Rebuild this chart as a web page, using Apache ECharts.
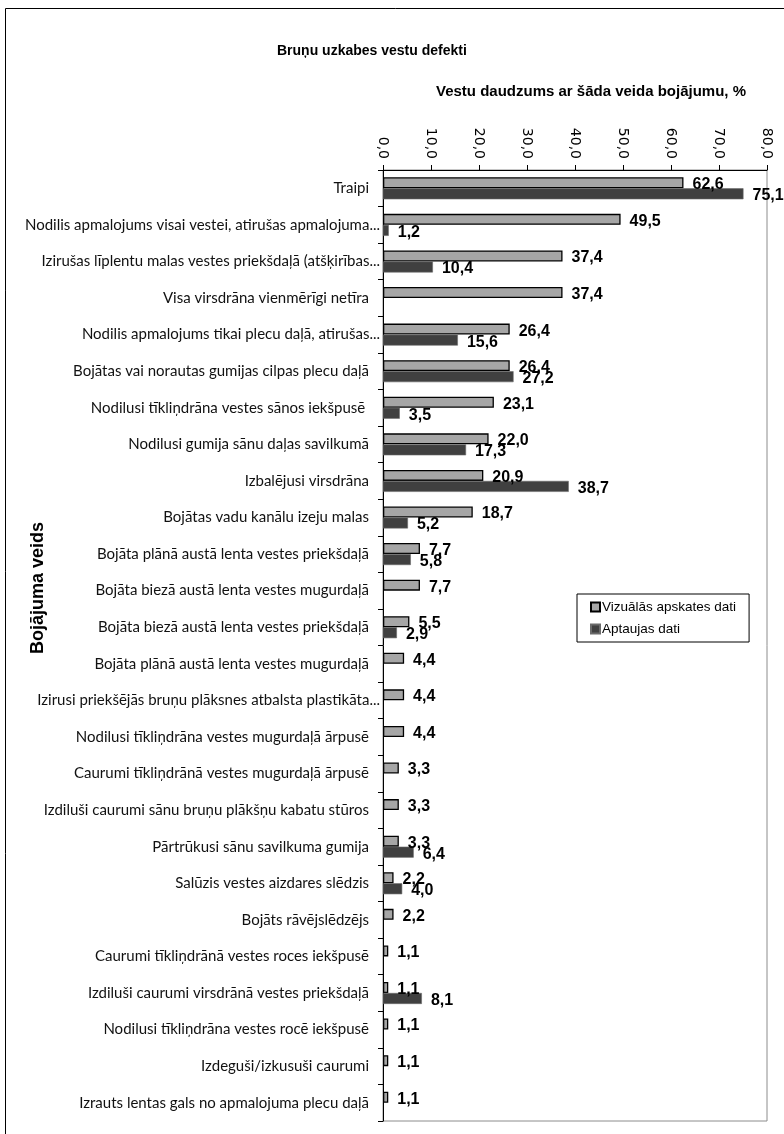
<!DOCTYPE html>
<html>
<head>
<meta charset="utf-8">
<script src="https://cdn.jsdelivr.net/npm/echarts@6/dist/echarts.min.js"></script>
<style>
html,body{margin:0;padding:0;background:#fff;}
#c{width:784px;height:1134px;}
</style>
</head>
<body>
<div id="c"></div>
<script>
const categories = [
  "Traipi",
  "Nodilis apmalojums visai vestei, atirušas apmalojuma...",
  "Izirušas līplentu malas vestes priekšdaļā (atšķirības...",
  "Visa virsdrāna vienmērīgi netīra",
  "Nodilis apmalojums tikai plecu daļā, atirušas...",
  "Bojātas vai norautas gumijas cilpas plecu daļā",
  "Nodilusi tīkliņdrāna vestes sānos iekšpusē ",
  "Nodilusi gumija sānu daļas savilkumā",
  "Izbalējusi virsdrāna",
  "Bojātas vadu kanālu izeju malas",
  "Bojāta plānā austā lenta vestes priekšdaļā",
  "Bojāta biezā austā lenta vestes mugurdaļā",
  "Bojāta biezā austā lenta vestes priekšdaļā",
  "Bojāta plānā austā lenta vestes mugurdaļā",
  "Izirusi priekšējās bruņu plāksnes atbalsta plastikāta...",
  "Nodilusi tīkliņdrāna vestes mugurdaļā ārpusē",
  "Caurumi tīkliņdrānā vestes mugurdaļā ārpusē",
  "Izdiluši caurumi sānu bruņu plākšņu kabatu stūros",
  "Pārtrūkusi sānu savilkuma gumija",
  "Salūzis vestes aizdares slēdzis",
  "Bojāts rāvējslēdzējs",
  "Caurumi tīkliņdrānā vestes roces iekšpusē",
  "Izdiluši caurumi virsdrānā vestes priekšdaļā",
  "Nodilusi tīkliņdrāna vestes rocē iekšpusē",
  "Izdeguši/izkusuši caurumi",
  "Izrauts lentas gals no apmalojuma plecu daļā"
];
const visualData = [62.6, 49.5, 37.4, 37.4, 26.4, 26.4, 23.1, 22.0, 20.9, 18.7, 7.7, 7.7, 5.5, 4.4, 4.4, 4.4, 3.3, 3.3, 3.3, 2.2, 2.2, 1.1, 1.1, 1.1, 1.1, 1.1];
const surveyData = [75.1, 1.2, 10.4, '-', 15.6, 27.2, 3.5, 17.3, 38.7, 5.2, 5.8, '-', 2.9, '-', '-', '-', '-', '-', 6.4, 4.0, '-', '-', 8.1, '-', '-', '-'];
const xTicks = [0, 10, 20, 30, 40, 50, 60, 70, 80];
const seriesNames = ["Vizuālās apskates dati", "Aptaujas dati"];
const titleText = "Bruņu uzkabes vestu defekti";
const xAxisName = "Vestu daudzums ar šāda veida bojājumu, %";
const yAxisName = "Bojājuma veids";

const fmt = v => Number(v).toFixed(1).replace('.', ',');

const chart = echarts.init(document.getElementById('c'), null, {renderer: 'canvas'});
const valueLabel = {
  show: true,
  position: 'right',
  distance: 9,
  offset: [0, 2],
  color: '#000',
  fontFamily: 'Liberation Sans',
  fontWeight: 'bold',
  fontSize: 16,
  formatter: p => fmt(p.value)
};
chart.setOption({
  backgroundColor: '#fff',
  animation: false,
  title: {
    text: titleText,
    left: 277,
    top: 44,
    padding: 0,
    textStyle: {fontFamily: 'Liberation Sans', fontWeight: 'bold', fontSize: 14, color: '#000'}
  },
  legend: {
    orient: 'vertical',
    left: 577,
    top: 594,
    padding: [6, 13, 6, 13],
    itemGap: 8,
    itemWidth: 9,
    itemHeight: 9,
    borderColor: '#000',
    borderWidth: 1,
    backgroundColor: '#fff',
    icon: 'rect',
    data: seriesNames,
    textStyle: {fontFamily: 'Liberation Sans', fontSize: 13.5, color: '#000', padding: [0, 0, 0, -3]}
  },
  grid: {
    left: 383,
    right: 17,
    top: 170,
    height: 951,
    show: true,
    borderColor: '#8c8c8c',
    borderWidth: 1,
    containLabel: false
  },
  xAxis: {
    type: 'value',
    position: 'top',
    min: xTicks[0],
    max: xTicks[xTicks.length - 1],
    interval: xTicks[1] - xTicks[0],
    name: xAxisName,
    nameLocation: 'middle',
    nameGap: 71,
    nameTextStyle: {fontFamily: 'Liberation Sans', fontWeight: 'bold', fontSize: 15, color: '#000', padding: [0, 0, 0, 32]},
    axisLine: {show: true, lineStyle: {color: '#000', width: 1}},
    axisTick: {show: true, inside: false, length: 5, lineStyle: {color: '#000'}},
    splitLine: {show: false},
    axisLabel: {
      rotate: 90,
      margin: 11,
      fontFamily: 'DejaVu Sans',
      fontSize: 14,
      color: '#000',
      formatter: v => fmt(v)
    }
  },
  yAxis: {
    type: 'category',
    inverse: true,
    data: categories,
    axisLine: {show: true, lineStyle: {color: '#000', width: 1}},
    axisTick: {show: true, inside: false, length: 5, lineStyle: {color: '#000'}},
    splitLine: {show: false},
    axisLabel: {
      margin: 3,
      formatter: v => v.endsWith('...') ? '{t|' + v + '}' : '{n|' + v + '}',
      rich: {
        n: {fontFamily: 'Lato', fontSize: 15, color: '#111', padding: [0, 11, 0, 0]},
        t: {fontFamily: 'Lato', fontSize: 15, color: '#111'}
      }
    }
  },
  series: [
    {
      name: seriesNames[0],
      type: 'bar',
      data: visualData,
      barWidth: 11,
      barGap: '0%',
      itemStyle: {color: '#a6a6a6', borderColor: '#000', borderWidth: 1.3},
      label: valueLabel
    },
    {
      name: seriesNames[1],
      type: 'bar',
      data: surveyData,
      barWidth: 11,
      barGap: '0%',
      itemStyle: {color: '#404040', borderColor: '#6a6a6a', borderWidth: 0.6},
      label: valueLabel
    }
  ],
  graphic: [
    {
      type: 'rect',
      z: -10,
      silent: true,
      shape: {x: 5.5, y: 8.5, width: 800, height: 1200},
      style: {fill: 'none', stroke: '#000', lineWidth: 1}
    },
    {
      type: 'text',
      x: 38,
      y: 588,
      rotation: Math.PI / 2,
      style: {
        text: yAxisName,
        fontFamily: 'Liberation Sans',
        fontWeight: 'bold',
        fontSize: 18,
        fill: '#000',
        textAlign: 'center',
        textVerticalAlign: 'middle'
      }
    }
  ]
});
</script>
</body>
</html>
